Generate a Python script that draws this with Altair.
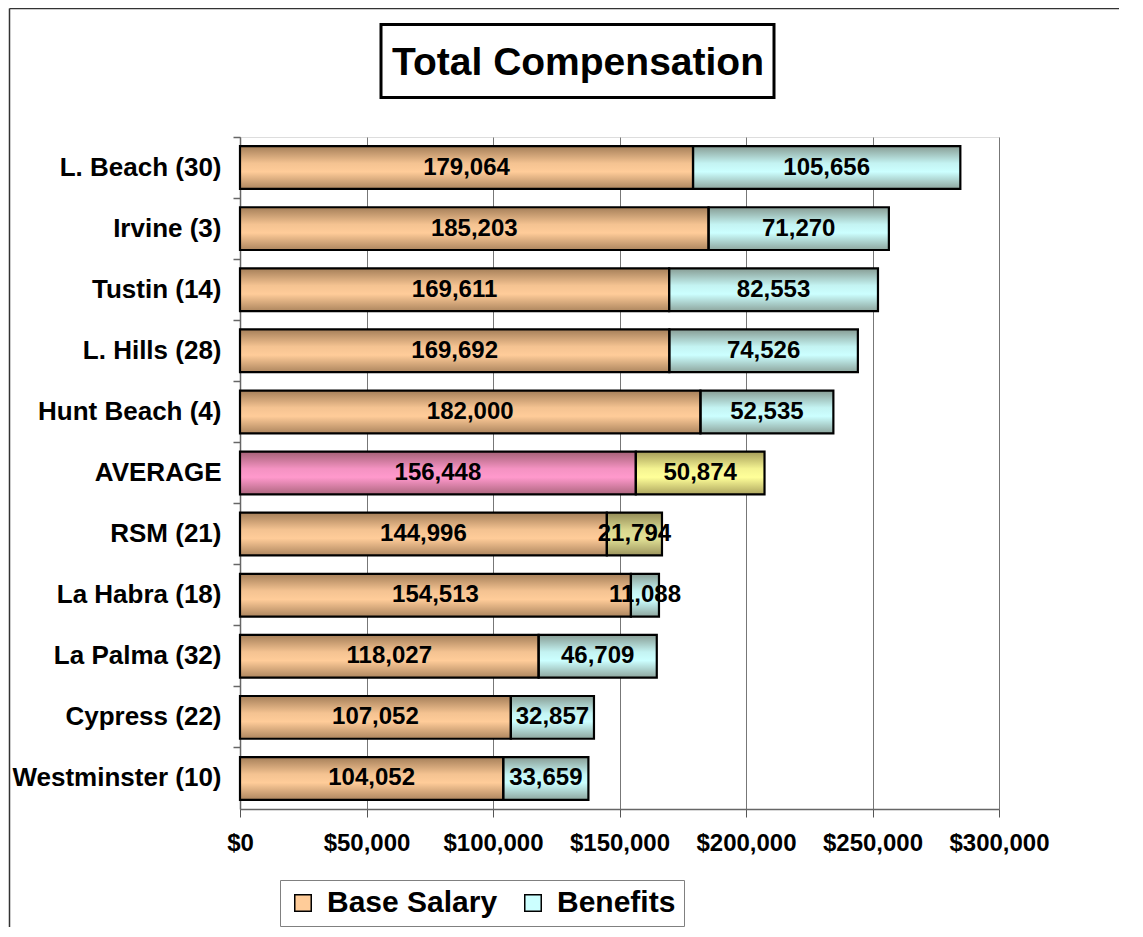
import altair as alt
import pandas as pd

TITLE = "Total Compensation"
CATEGORIES = ["L. Beach (30)", "Irvine (3)", "Tustin (14)", "L. Hills (28)", "Hunt Beach (4)",
              "AVERAGE", "RSM (21)", "La Habra (18)", "La Palma (32)", "Cypress (22)", "Westminster (10)"]
BASE = [179064, 185203, 169611, 169692, 182000, 156448, 144996, 154513, 118027, 107052, 104052]
BENEFITS = [105656, 71270, 82553, 74526, 52535, 50874, 21794, 11088, 46709, 32857, 33659]
X_TICKS = [0, 50000, 100000, 150000, 200000, 250000, 300000]

KEYS = ["Base Salary", "Benefits", "Average Base", "Average Benefits", "RSM Benefits"]
COLORS = ["#FFCC99", "#CCFFFF", "#FF99CC", "#FFFF99", "#E2E296"]

FONT = "Liberation Sans"

rows = []
for cat, b, e in zip(CATEGORIES, BASE, BENEFITS):
    if cat == "AVERAGE":
        kb, ke = "Average Base", "Average Benefits"
    elif cat.startswith("RSM"):
        kb, ke = "Base Salary", "RSM Benefits"
    else:
        kb, ke = "Base Salary", "Benefits"
    rows.append({"cat": cat, "key": kb, "start": 0, "end": b, "mid": b / 2, "label": f"{b:,}"})
    rows.append({"cat": cat, "key": ke, "start": b, "end": b + e, "mid": b + e / 2, "label": f"{e:,}"})
df = pd.DataFrame(rows)

W, H = 759, 672
PAD_L, PAD_T, PAD_R, PAD_B = 232, 129, 120, 118
P_IN, P_OUT = 0.3, 0.15

base = alt.Chart(df)
y_scale = alt.Scale(paddingInner=P_IN, paddingOuter=P_OUT)

y_labels = alt.Y("cat:N", sort=CATEGORIES, title=None, scale=y_scale,
                 axis=alt.Axis(orient="left", labelFont=FONT, labelFontSize=26, labelFontWeight="bold",
                               labelColor="black", labelPadding=19, labelLimit=400,
                               ticks=False, domainColor="#666666", domainWidth=1.5,
                               grid=False))
y_ticks = alt.Y("cat:N", sort=CATEGORIES, title=None, scale=y_scale,
                axis=alt.Axis(orient="left", labels=False, domain=False, grid=False,
                              ticks=True, tickSize=7, tickColor="#666666", tickWidth=1.5,
                              bandPosition=-(P_OUT / (1 - P_IN))))
y_plain = alt.Y("cat:N", sort=CATEGORIES, title=None, scale=y_scale, axis=None)
x_enc = alt.X("start:Q", title=None,
              scale=alt.Scale(domain=[0, 300000], nice=False),
              axis=alt.Axis(values=X_TICKS, format="$,.0f", labelFont=FONT, labelFontSize=24,
                            labelFontWeight="bold", labelColor="black", labelPadding=14,
                            tickSize=8, tickColor="#555555", domainColor="#666666",
                            domainWidth=1.5, grid=True, gridColor="#777777", gridWidth=1,
                            labelFlush=False))

bars = base.mark_bar(strokeWidth=0).encode(
    y=y_labels, x=x_enc, x2="end:Q",
    color=alt.Color("key:N", scale=alt.Scale(domain=KEYS, range=COLORS),
                    legend=alt.Legend(orient="none", legendX=40, legendY=743,
                                      direction="horizontal", title=None,
                                      values=["Base Salary", "Benefits"],
                                      labelFont=FONT, labelFontSize=30, labelFontWeight="bold",
                                      labelColor="black", labelLimit=500,
                                      symbolType="square", symbolSize=272,
                                      symbolStrokeColor="black", symbolStrokeWidth=1.5,
                                      symbolOpacity=1, labelOffset=9, columnPadding=20,
                                      strokeColor="#808080", fillColor="white", padding=8)),
)

shade = base.mark_bar(
    strokeWidth=0,
    color=alt.Gradient(gradient="linear", x1=0, x2=0, y1=0, y2=1,
                       stops=[alt.GradientStop(color="rgba(40,20,0,0.42)", offset=0),
                              alt.GradientStop(color="rgba(40,20,0,0.05)", offset=0.4),
                              alt.GradientStop(color="rgba(40,20,0,0.0)", offset=0.6),
                              alt.GradientStop(color="rgba(40,20,0,0.38)", offset=1)]),
).encode(y=y_plain, x="start:Q", x2="end:Q")

outline = base.mark_bar(fillOpacity=0, stroke="black", strokeWidth=2.2).encode(
    y=y_ticks, x="start:Q", x2="end:Q")

labels = base.mark_text(font=FONT, fontSize=24, fontWeight="bold", color="black",
                        align="center", baseline="middle").encode(
    y=y_plain, x="mid:Q", text="label:N")

tdf = pd.DataFrame({"t": [TITLE]})
title_box = alt.Chart(tdf).mark_rect(fill="white", stroke="black", strokeWidth=3).encode(
    x=alt.value(141), x2=alt.value(534), y=alt.value(-112.5), y2=alt.value(-39.5))
title_text = alt.Chart(tdf).mark_text(font=FONT, fontSize=39, fontWeight="bold", color="black",
                                      align="center", baseline="middle").encode(
    x=alt.value(338), y=alt.value(-74), text="t:N")

fdf = pd.DataFrame({"f": [0]})
frame_left = alt.Chart(fdf).mark_rule(color="#333333", strokeWidth=1.5).encode(
    x=alt.value(-230.5), y=alt.value(-128.5), y2=alt.value(H + PAD_B))
frame_top = alt.Chart(fdf).mark_rule(color="#333333", strokeWidth=1.5).encode(
    x=alt.value(-230.5), x2=alt.value(W + PAD_R), y=alt.value(-128.5))

chart = alt.layer(bars, shade, outline, labels, title_box, title_text, frame_left, frame_top).resolve_axis(
    y="independent"
).properties(
    width=W, height=H,
    autosize=alt.AutoSizeParams(type="none"),
    padding={"left": PAD_L, "top": PAD_T, "right": PAD_R, "bottom": PAD_B},
).configure_view(stroke=None).configure(background="white")

chart.save("out.html", embed_options={"renderer": "svg", "actions": False})
